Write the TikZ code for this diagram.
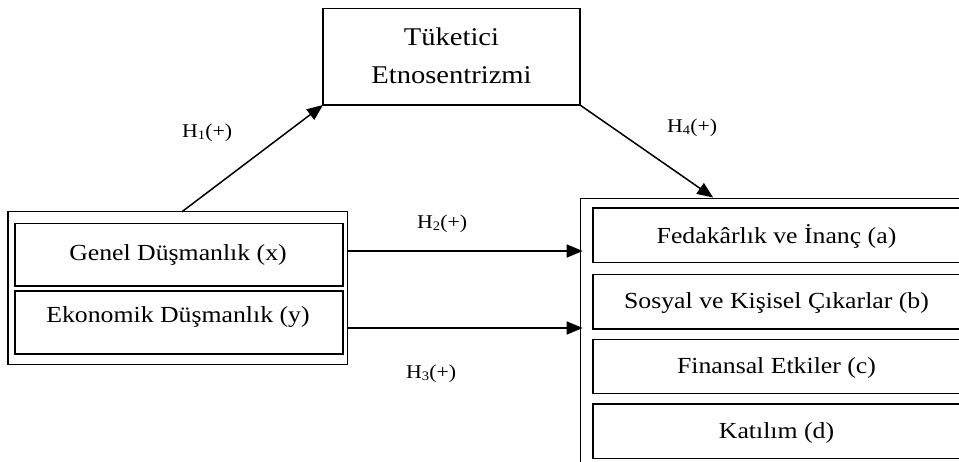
\documentclass[tikz,border=0pt]{standalone}
\usepackage{fontspec}
\setmainfont{Liberation Serif}[FakeStretch=1.12]
\usetikzlibrary{arrows.meta,calc}
\newcommand{\hlab}[1]{H\raisebox{-2.5pt}{\fontsize{13}{13}\selectfont #1}(+)}
\begin{document}
\begin{tikzpicture}[x=1pt,y=-1pt,
  box/.style={draw=black,line width=1.2pt,inner sep=0pt,outer sep=0pt},
  txt/.style={anchor=base,inner sep=0pt,font=\fontsize{23}{27}\selectfont},
  toptxt/.style={anchor=base,inner sep=0pt,font=\fontsize{25.5}{30}\selectfont},
  lab/.style={anchor=base west,inner sep=0pt,font=\fontsize{19.5}{22}\selectfont},
  arr/.style={line width=1.5pt,-{Triangle[length=16pt,width=13pt]}}]
\useasboundingbox (0,0) rectangle (959,461);
\clip (0,0) rectangle (959,461);
% top box
\node[box,minimum width=257pt,minimum height=96.7pt] (top) at (451.5,56.65) {};
\node[toptxt] (t1) at (451.5,45) {Tüketici};
\node[toptxt] (t2) at (451.5,83) {Etnosentrizmi};
% left boxes
\node[box,minimum width=339.7pt,minimum height=152.6pt] (lo) at (177.85,288) {};
\node[box,minimum width=328pt,minimum height=62.5pt] (li1) at (179,254.75) {};
\node[box,minimum width=328pt,minimum height=63pt] (li2) at (179,322.5) {};
\node[txt] (lt1) at (178,260) {Genel Düşmanlık (x)};
\node[txt] (lt2) at (178,322) {Ekonomik Düşmanlık (y)};
% right boxes
\node[box,minimum width=399.3pt,minimum height=281.5pt] (ro) at (780.35,339.25) {};
\node[box,minimum width=369pt,minimum height=54.3pt] (ra) at (777.5,235.15) {};
\node[box,minimum width=369pt,minimum height=54.7pt] (rb) at (777.5,301.65) {};
\node[box,minimum width=369pt,minimum height=54pt] (rc) at (777.5,366.3) {};
\node[box,minimum width=369pt,minimum height=54.3pt] (rd) at (777.5,431.15) {};
\node[txt] (rta) at (776.5,243) {Fedakârlık ve İnanç (a)};
\node[txt] (rtb) at (776.5,308) {Sosyal ve Kişisel Çıkarlar (b)};
\node[txt] (rtc) at (776.5,373) {Finansal Etkiler (c)};
\node[txt] (rtd) at (776.5,438) {Katılım (d)};
% connectors
\coordinate (h1s) at ($(lo.north west)+(174,0)$);
\coordinate (h4e) at ($(ro.north west)+(132.5,-1)$);
\draw[arr] (h1s) -- (top.south west);
\draw[arr] (top.south east) -- (h4e);
\draw[arr] (lo.east |- 0,251) -- ($(ro.west |- 0,251)+(2,0)$);
\draw[arr] (lo.east |- 0,328) -- ($(ro.west |- 0,328)+(2,0)$);
% labels
\node[lab] (l1) at (182,137) {\hlab{1}};
\node[lab] (l4) at (667,132) {\hlab{4}};
\node[lab] (l2) at (417,228) {\hlab{2}};
\node[lab] (l3) at (406,378) {\hlab{3}};
\end{tikzpicture}
\end{document}
